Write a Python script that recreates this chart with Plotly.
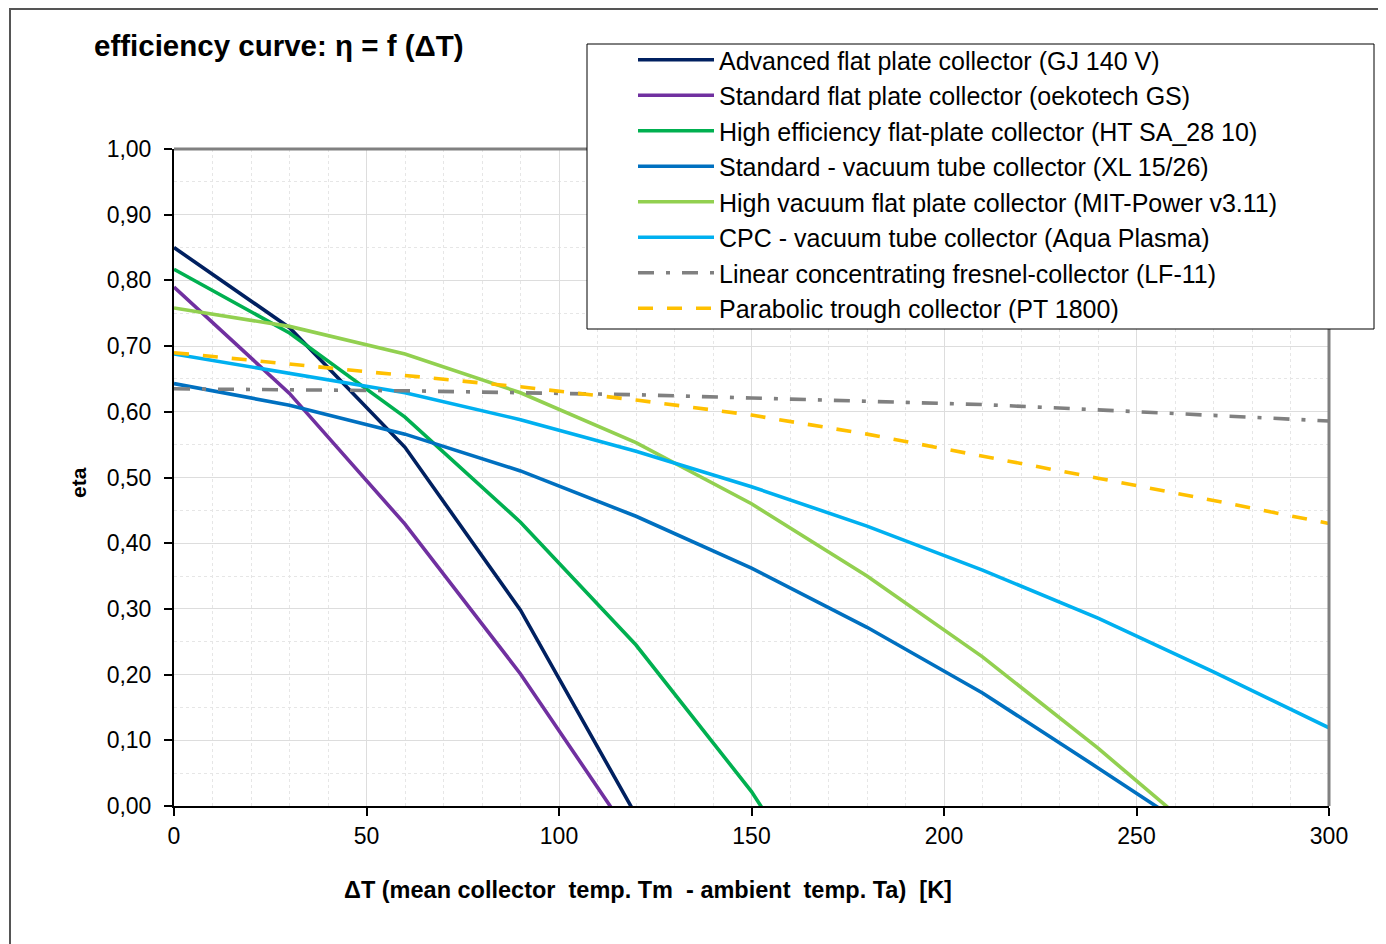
import plotly.graph_objects as go

# ---- data ----
dT = [0, 30, 60, 90, 120, 150, 180, 210, 240, 270, 300]

names = [
    "Advanced flat plate collector (GJ 140 V)",
    "Standard flat plate collector (oekotech GS)",
    "High efficiency flat-plate collector (HT SA_28 10)",
    "Standard - vacuum tube collector (XL 15/26)",
    "High vacuum flat plate collector (MIT-Power v3.11)",
    "CPC - vacuum tube collector (Aqua Plasma)",
    "Linear concentrating fresnel-collector (LF-11)",
    "Parabolic trough collector (PT 1800)",
]

eta_advanced_fp = [0.850, 0.728, 0.546, 0.298, -0.014]
eta_standard_fp = [0.790, 0.628, 0.429, 0.201, -0.058]
eta_high_eff_fp = [0.817, 0.720, 0.592, 0.432, 0.245, 0.022, -0.25]
eta_standard_vt = [0.643, 0.610, 0.566, 0.510, 0.441, 0.362, 0.272, 0.172, 0.058, -0.058]
eta_high_vac_fp = [0.758, 0.730, 0.688, 0.629, 0.553, 0.460, 0.350, 0.227, 0.088, -0.061]
eta_cpc_vt = [0.688, 0.659, 0.629, 0.588, 0.540, 0.486, 0.426, 0.359, 0.286, 0.204, 0.119]
eta_fresnel = [0.635, 0.634, 0.632, 0.629, 0.626, 0.621, 0.616, 0.611, 0.603, 0.595, 0.586]
eta_trough = [0.690, 0.673, 0.656, 0.638, 0.618, 0.595, 0.566, 0.533, 0.499, 0.465, 0.430]

series = [eta_advanced_fp, eta_standard_fp, eta_high_eff_fp, eta_standard_vt,
          eta_high_vac_fp, eta_cpc_vt, eta_fresnel, eta_trough]
colors = ["#002060", "#7030A0", "#00B050", "#0070C0",
          "#92D050", "#00B0F0", "#808080", "#FFC000"]
dashes = ["solid"] * 6 + ["16px,12px,4px,12px", "15px,14px"]

FONT = "Liberation Sans, Arial, sans-serif"

fig = go.Figure()
for name, ys, c, d in zip(names, series, colors, dashes):
    fig.add_trace(go.Scatter(
        x=dT[:len(ys)], y=ys, mode="lines", name=name,
        line=dict(color=c, width=3.6, dash=d),
    ))

OFF = 8  # page body margin
W, H = 1386 - OFF, 944 - OFF
L, T = 174 - OFF, 149 - OFF
R = W - (1329 - OFF)
B = H - (806 - OFF)

def px(x):  # reference screen x -> paper
    return (x - 174) / (1329 - 174)

def py(y):  # reference screen y -> paper
    return (806 - y) / (806 - 149)

LEG_TOP = 44
LEG_BOTTOM = 329

fig.update_layout(
    width=W, height=H,
    margin=dict(l=L, r=R, t=T, b=B, autoexpand=False),
    paper_bgcolor="white", plot_bgcolor="white",
    separators=", ",
    font=dict(family=FONT, size=23, color="black"),
    showlegend=True,
    legend=dict(
        x=px(633), y=py(37), xanchor="left", yanchor="top",
        bgcolor="rgba(0,0,0,0)", borderwidth=0,
        font=dict(family=FONT, size=25, color="black"),
        itemwidth=76, tracegroupgap=0,
    ),
    xaxis=dict(
        range=[0, 300], dtick=50, tick0=0,
        showline=True, linecolor="black", linewidth=2,
        ticks="outside", ticklen=8, tickwidth=1.5, tickcolor="black",
        showgrid=True, gridcolor="#DDDDDD", gridwidth=1,
        minor=dict(dtick=10, showgrid=True, gridcolor="#E6E6E6", griddash="dot", gridwidth=1),
        zeroline=False, tickfont=dict(size=23),
    ),
    yaxis=dict(
        range=[0, 1.0], dtick=0.1, tick0=0, tickformat=".2f",
        showline=True, linecolor="black", linewidth=2,
        ticks="outside", ticklen=8, tickwidth=1.5, tickcolor="black",
        ticklabelstandoff=8,
        showgrid=True, gridcolor="#DDDDDD", gridwidth=1,
        minor=dict(dtick=0.05, showgrid=True, gridcolor="#E6E6E6", griddash="dot", gridwidth=1),
        zeroline=False, tickfont=dict(size=23),
    ),
    shapes=[
        # outer chart frame
        dict(type="rect", xref="paper", yref="paper",
             x0=px(10), x1=px(1420), y0=py(980), y1=py(9),
             line=dict(color="#555555", width=2), layer="below"),
        # top and right plot-area border (grey)
        dict(type="line", xref="paper", yref="paper", x0=0, x1=1, y0=1, y1=1,
             line=dict(color="#808080", width=3), layer="above"),
        dict(type="line", xref="paper", yref="paper", x0=1, x1=1, y0=0, y1=1,
             line=dict(color="#808080", width=3), layer="above"),
        # legend box
        dict(type="rect", xref="paper", yref="paper",
             x0=px(587), x1=px(1374), y0=py(LEG_BOTTOM), y1=py(LEG_TOP),
             fillcolor="white", line=dict(color="black", width=1), layer="above"),
    ],
    annotations=[
        dict(text="<b>efficiency curve: η = f (ΔT)</b>", xref="paper", yref="paper",
             x=px(92), y=py(45), xanchor="left", yanchor="middle", showarrow=False,
             font=dict(family=FONT, size=29.5, color="black")),
        dict(text="<b>eta</b>", xref="paper", yref="paper",
             x=px(78), y=py(483), xanchor="center", yanchor="middle", showarrow=False,
             textangle=-90, font=dict(family=FONT, size=21, color="black")),
        dict(text="<b>ΔT (mean collector\u00a0 temp. Tm\u00a0 - ambient\u00a0 temp. Ta)\u00a0 [K]</b>",
             xref="paper", yref="paper",
             x=px(648), y=py(890), xanchor="center", yanchor="middle", showarrow=False,
             font=dict(family=FONT, size=23.5, color="black")),
    ],
)

fig.write_html("out.html")
